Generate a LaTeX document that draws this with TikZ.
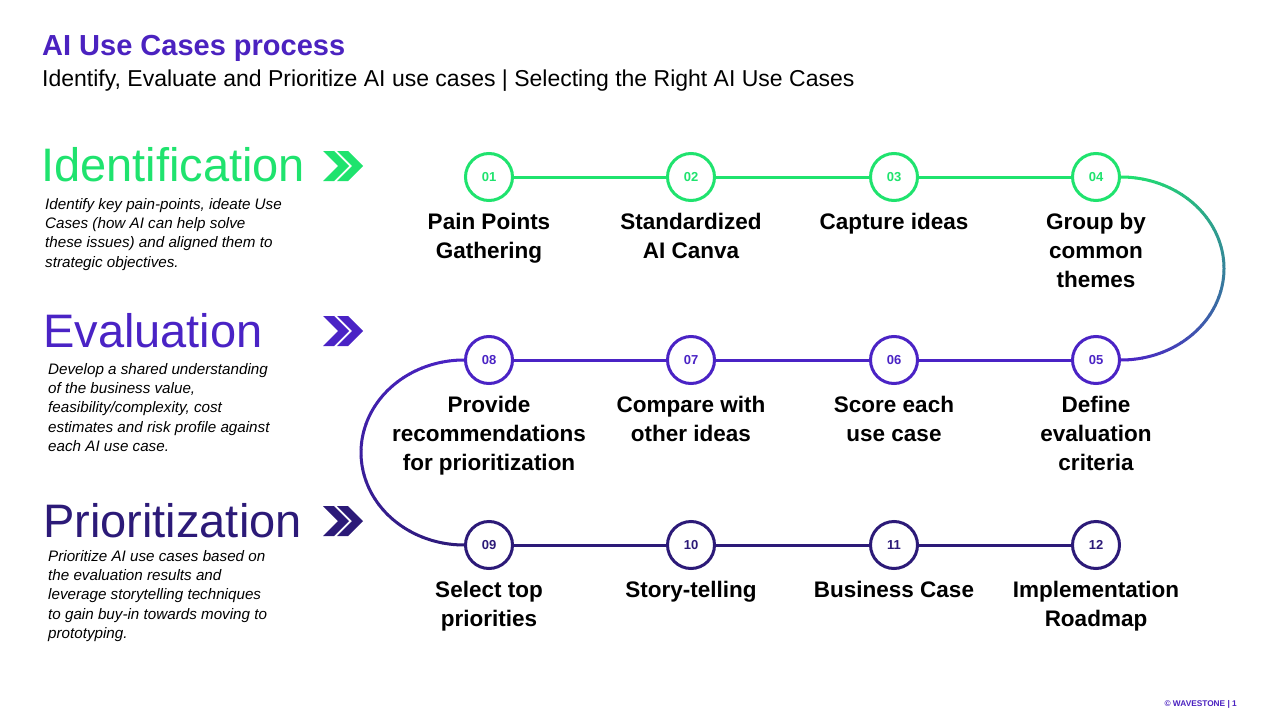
\documentclass[tikz,border=0pt]{standalone}
\usepackage{fontspec}
\setmainfont{Liberation Sans}
\usetikzlibrary{positioning,calc}
\definecolor{idgreen}{HTML}{1FE36E}
\definecolor{evpurple}{HTML}{4A23C5}
\definecolor{prpurple}{HTML}{2C1A78}
\definecolor{titlepurple}{HTML}{4B22C0}

\begin{document}
\begin{tikzpicture}[x=1pt, y=-1pt,
  step circle/.style={draw=#1, text=#1, fill=white, circle, line width=3pt, minimum size=47pt, inner sep=0pt,
    font=\fontsize{13}{13}\selectfont\bfseries},
  step label/.style={align=center, inner sep=0pt, font=\fontsize{22.5}{29}\selectfont\bfseries},
  phase/.style={anchor=west, inner sep=0pt, font=\fontsize{47}{48}\selectfont},
  phase text/.style={anchor=north west, align=left, inner sep=0pt, font=\fontsize{15.2}{19.3}\selectfont\itshape},
  link/.style={line width=3pt},
  chevrons/.pic={
    \foreach \o in {0,14}
      \fill (\o,-15) -- (\o+11,-15) -- (\o+26,0) -- (\o+11,15) -- (\o,15) -- (\o+15,0) -- cycle;
  }]

\fill[white] (0,0) rectangle (1280,720);
\useasboundingbox (0,0) rectangle (1280,720);

% title
\node[anchor=west, inner sep=0pt, font=\fontsize{29}{29}\selectfont\bfseries, titlepurple] (title) at (42,48) {AI Use Cases process};
\node[anchor=west, inner sep=0pt, font=\fontsize{23}{23}\selectfont] (subtitle) at (42,81) {Identify, Evaluate and Prioritize AI use cases | Selecting the Right AI Use Cases};

% phases
\node[phase, idgreen] (identification) at (41,165) {Identification};
\node[phase, evpurple] (evaluation) at (43,331) {Evaluation};
\node[phase, prpurple] (prioritization) at (43,521) {Prioritization};

\pic[idgreen] at (323,166) {chevrons};
\pic[evpurple] at (323,331) {chevrons};
\pic[prpurple] at (323,521) {chevrons};

\node[phase text] (idtext) at (45,198) {Identify key pain-points, ideate Use\\Cases (how AI can help solve\\these issues) and aligned them to\\strategic objectives.};
\node[phase text] (evtext) at (48,363) {Develop a shared understanding\\of the business value,\\feasibility/complexity, cost\\estimates and risk profile against\\each AI use case.};
\node[phase text] (prtext) at (48,550) {Prioritize AI use cases based on\\the evaluation results and\\leverage storytelling techniques\\to gain buy-in towards moving to\\prototyping.};

% steps
\foreach \n/\x in {01/489,02/691,03/894,04/1096}
  \node[step circle=idgreen] (c\n) at (\x,177) {\n};
\foreach \n/\x in {05/1096,06/894,07/691,08/489}
  \node[step circle=evpurple] (c\n) at (\x,360) {\n};
\foreach \n/\x in {09/489,10/691,11/894,12/1096}
  \node[step circle=prpurple] (c\n) at (\x,545) {\n};

\foreach \n/\t in {01/{Pain Points\\Gathering}, 02/{Standardized\\AI Canva}, 03/{Capture ideas},
    04/{Group by\\common\\themes}, 05/{Define\\evaluation\\criteria}, 06/{Score each\\use case},
    07/{Compare with\\other ideas}, 08/{Provide\\recommendations\\for prioritization},
    09/{Select top\\priorities}, 10/{Story-telling}, 11/{Business Case}, 12/{Implementation\\Roadmap}}
  \node[step label, below=11pt of c\n] (t\n) {\t};

% connectors
\draw[link, idgreen] (c01) -- (c02) (c02) -- (c03) (c03) -- (c04);
\draw[link, evpurple] (c05) -- (c06) (c06) -- (c07) (c07) -- (c08);
\draw[link, prpurple] (c09) -- (c10) (c10) -- (c11) (c11) -- (c12);

\coordinate (rc) at ($(c04.east)!0.5!(c05.east)$);
\coordinate (lc) at ($(c08.west)!0.5!(c09.west)$);
\foreach \i in {0,...,44} {
  \pgfmathsetmacro\a{-90+4*\i}
  \pgfmathsetmacro\pct{100*\i/44}
  \draw[link, evpurple!\pct!idgreen] ($(rc)+(\a:103 and 91.5)$) arc[start angle=\a, end angle=\a+4.3, x radius=103, y radius=91.5];
  \pgfmathsetmacro\b{270-4*\i}
  \draw[link, prpurple!\pct!evpurple] ($(lc)+(\b:103 and 92.5)$) arc[start angle=\b, end angle=\b-4.3, x radius=103, y radius=92.5];
}

% footer
\node[anchor=east, inner sep=0pt, font=\fontsize{8.3}{9}\selectfont\bfseries, titlepurple] (footer) at (1237,704) {© WAVESTONE | 1};
\end{tikzpicture}
\end{document}
